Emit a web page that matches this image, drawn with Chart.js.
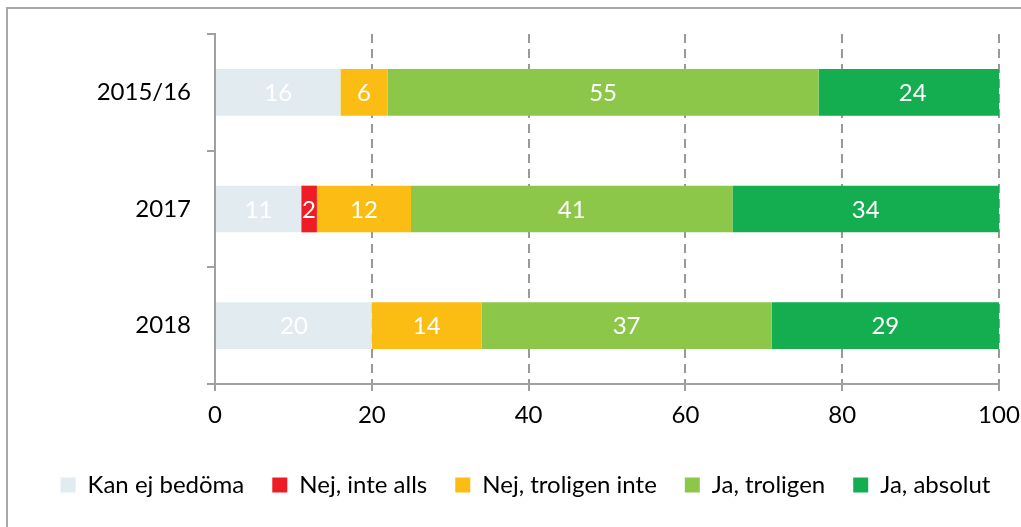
<!DOCTYPE html>
<html>
<head>
<meta charset="utf-8">
<script src="https://cdn.jsdelivr.net/npm/chart.js@4"></script>
<style>
  html, body { margin: 0; padding: 0; background: #fff; }
  #wrap { width: 1021px; height: 527px; }
</style>
</head>
<body>
<div id="wrap"><canvas id="myChart"></canvas></div>
<script>
const years = ['2015/16', '2017', '2018'];
const kanEjBedoma = [16, 11, 20];
const nejInteAlls = [0, 2, 0];
const nejTroligenInte = [6, 12, 14];
const jaTroligen = [55, 41, 37];
const jaAbsolut = [24, 34, 29];
const xTickValues = [0, 20, 40, 60, 80, 100];

const ctx = document.getElementById('myChart');

// white numbers in the middle of each segment
const segmentLabels = {
  id: 'segmentLabels',
  afterDatasetsDraw(chart) {
    const { ctx } = chart;
    ctx.save();
    ctx.font = '24px Lato';
    ctx.fillStyle = 'white';
    ctx.textAlign = 'center';
    ctx.textBaseline = 'middle';
    chart.data.datasets.forEach((ds, i) => {
      chart.getDatasetMeta(i).data.forEach((bar, j) => {
        const v = ds.data[j];
        if (!v) return;
        ctx.fillText(v, (bar.x + bar.base) / 2, bar.y + 1);
      });
    });
    ctx.restore();
  }
};

// outer frame of the chart object (cut off at right and bottom)
const frame = {
  id: 'frame',
  beforeDraw(chart) {
    const { ctx } = chart;
    ctx.save();
    ctx.strokeStyle = '#a6a6a6';
    ctx.lineWidth = 2;
    ctx.beginPath();
    ctx.moveTo(7, chart.height);
    ctx.lineTo(7, 8);
    ctx.lineTo(chart.width, 8);
    ctx.stroke();
    ctx.restore();
  }
};

new Chart(ctx, {
  type: 'bar',
  data: {
    labels: years,
    datasets: [
      { label: 'Kan ej bedöma', data: kanEjBedoma, backgroundColor: '#e2ecf0' },
      { label: 'Nej, inte alls', data: nejInteAlls, backgroundColor: '#ee1c25' },
      { label: 'Nej, troligen inte', data: nejTroligenInte, backgroundColor: '#fbbd14' },
      { label: 'Ja, troligen', data: jaTroligen, backgroundColor: '#8dc74a' },
      { label: 'Ja, absolut', data: jaAbsolut, backgroundColor: '#14ad4f' }
    ]
  },
  options: {
    indexAxis: 'y',
    responsive: true,
    maintainAspectRatio: false,
    animation: false,
    layout: {
      padding: { top: 34, right: 0, bottom: 20, left: 30 }
    },
    datasets: {
      bar: {
        barPercentage: 1,
        categoryPercentage: 0.4
      }
    },
    plugins: {
      legend: {
        position: 'bottom',
        labels: {
          boxWidth: 15,
          boxHeight: 15,
          padding: 28,
          color: '#000',
          font: { size: 24, family: 'Lato' }
        }
      },
      tooltip: { enabled: false }
    },
    scales: {
      x: {
        stacked: true,
        min: 0,
        max: 100,
        afterBuildTicks(scale) {
          scale.ticks = xTickValues.map(v => ({ value: v }));
        },
        afterFit(scale) {
          scale.height = 61;
          scale.paddingLeft = 0;
          scale.paddingRight = 22;
        },
        ticks: {
          color: '#000',
          padding: 10,
          font: { size: 24, family: 'Lato' }
        },
        grid: {
          color: c => (c.tick && c.tick.value === 0 ? 'rgba(0,0,0,0)' : '#999'),
          tickColor: '#a0a0a0',
          lineWidth: 2,
          tickLength: 7
        },
        border: {
          display: true,
          color: '#a0a0a0',
          width: 2,
          dash: [9, 6]
        }
      },
      y: {
        stacked: true,
        afterFit(scale) {
          scale.width = 185;
        },
        ticks: {
          color: '#000',
          padding: 16,
          font: { size: 24, family: 'Lato' }
        },
        grid: {
          drawOnChartArea: false,
          color: '#a0a0a0',
          lineWidth: 2,
          tickLength: 8
        },
        border: {
          display: true,
          color: '#a0a0a0',
          width: 2
        }
      }
    }
  },
  plugins: [segmentLabels, frame]
});
</script>
</body>
</html>
